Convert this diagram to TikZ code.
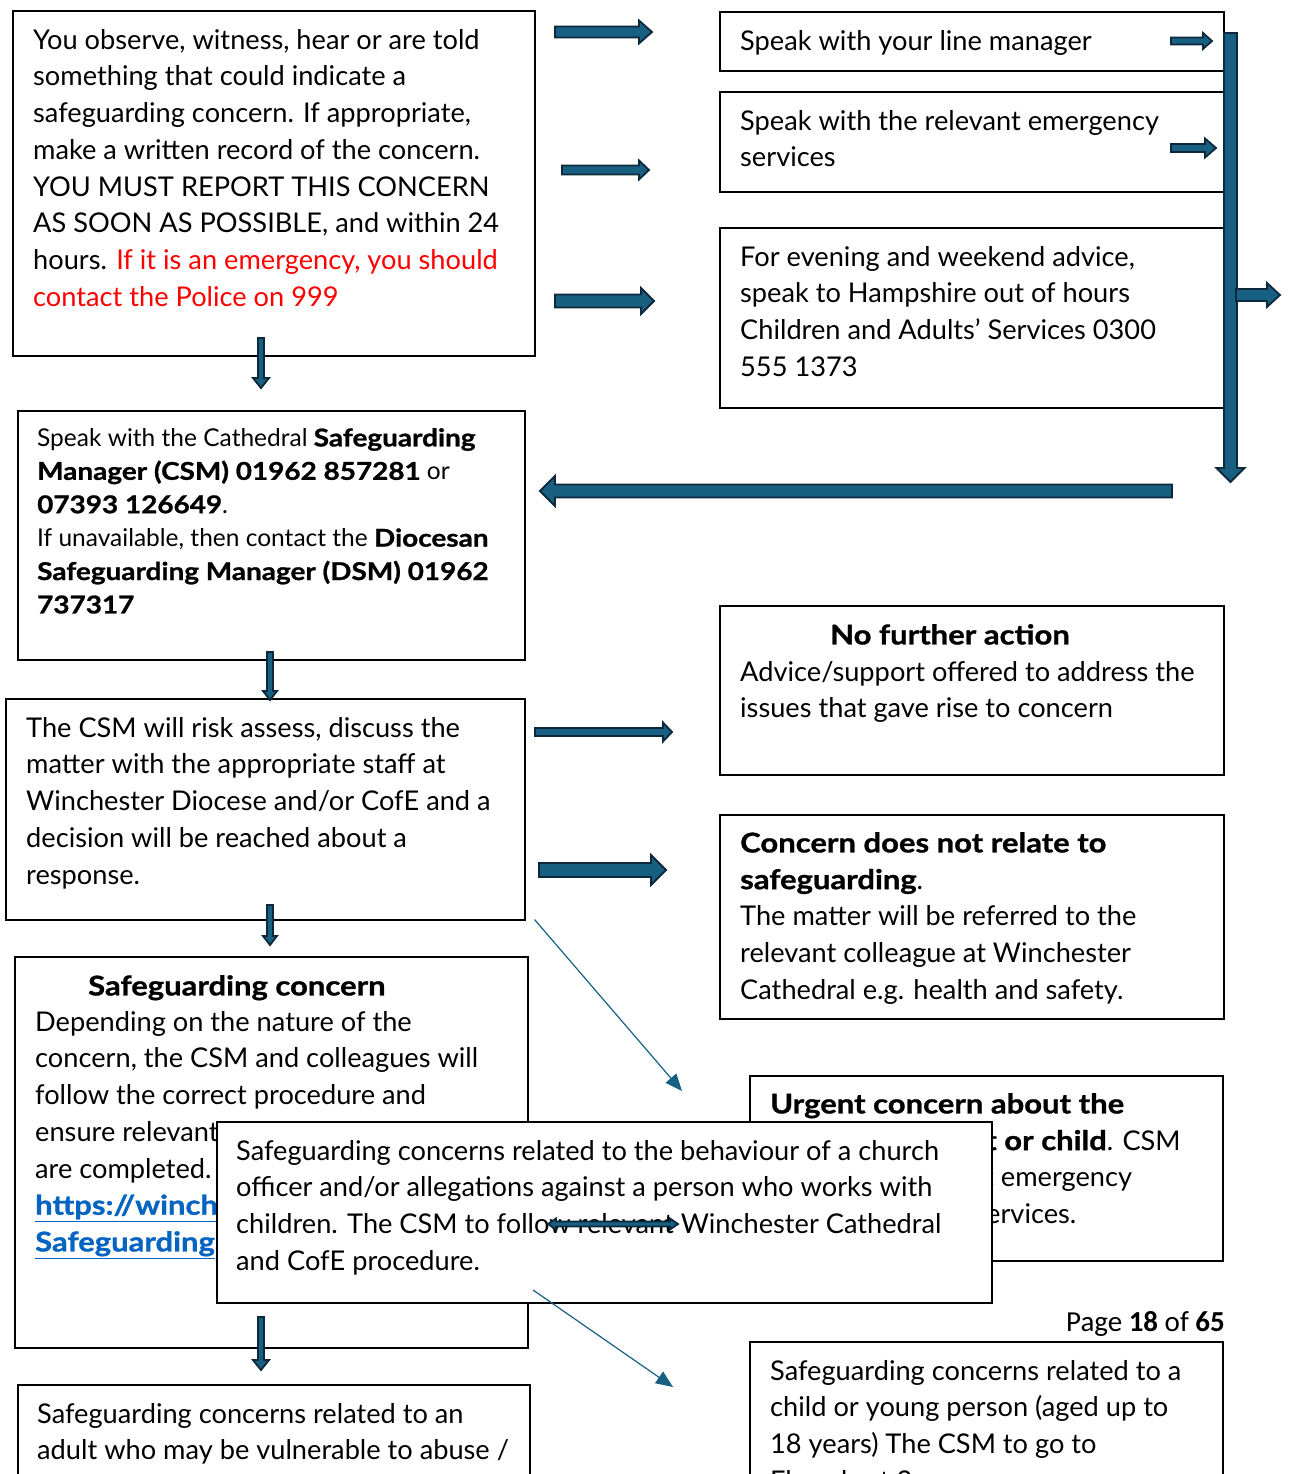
\documentclass[tikz,border=0pt]{standalone}
\usepackage{fontspec}
\setmainfont{Lato}[BoldFeatures={FakeStretch=1.14,FakeBold=1}]
\newfontfamily\pagefont{Carlito}
\usepackage{xcolor}
\usetikzlibrary{arrows.meta,calc}
\definecolor{arrblue}{RGB}{24,96,130}
\definecolor{arredge}{RGB}{12,40,58}
\definecolor{linkblue}{RGB}{5,99,193}
\newcommand\bodysize{\fontsize{27.2}{36.7}\selectfont}
\newcommand\smallsize{\fontsize{24.5}{33.4}\selectfont}
\newcommand\lnk[1]{\textcolor{linkblue}{\textbf{\underline{#1}}}}
\tikzset{
  box/.style     ={draw,line width=1.6pt,fill=white,anchor=north west,inner sep=0pt},
  txt/.style     ={anchor=north west,align=left,inner sep=0pt,font=\bodysize},
  blkarrow/.style={fill=arrblue,draw=arredge,line width=1.8pt,line join=miter},
  thinarr/.style ={draw=arrblue,line width=1.2pt,-{Triangle[length=17pt,width=14pt]}},
  pics/blk/.style args={#1/#2/#3/#4}{code={
    \draw[blkarrow] (0,{-#2/2}) -- ({#1-#4},{-#2/2}) -- ({#1-#4},{-#3/2}) -- (#1,0)
      -- ({#1-#4},{#3/2}) -- ({#1-#4},{#2/2}) -- (0,{#2/2}) -- cycle;}},
  pics/blkboth/.style args={#1/#2/#3/#4}{code={
    \draw[blkarrow] (0,0) -- (#4,{-#3/2}) -- (#4,{-#2/2}) -- ({#1-#4},{-#2/2})
      -- ({#1-#4},{-#3/2}) -- (#1,0) -- ({#1-#4},{#3/2}) -- ({#1-#4},{#2/2})
      -- (#4,{#2/2}) -- (#4,{#3/2}) -- cycle;}},
}

\begin{document}
\begin{tikzpicture}[x=1pt,y=-1pt]
  \useasboundingbox (0,0) rectangle (1289,1474);
  \clip (0,0) rectangle (1289,1474);

  % first report
  \node[box,minimum width=522pt,minimum height=345pt] (obs) at (12,10) {};
  \node[txt] (obs-t) at (33,29) {You observe, witness, hear or are told\\
    something that could indicate a\\
    safeguarding concern. If appropriate,\\
    make a written record of the concern.\\
    YOU MUST REPORT THIS CONCERN\\
    AS SOON AS POSSIBLE, and within 24\\
    hours. \textcolor{red}{If it is an emergency, you should}\\
    \textcolor{red}{contact the Police on 999}};

  % who to speak to
  \node[box,minimum width=504pt,minimum height=59pt] (mgr) at (719,11) {};
  \node[txt] (mgr-t) at (740,30) {Speak with your line manager};
  \node[box,minimum width=504pt,minimum height=100pt] (ems) at (719,91) {};
  \node[txt] (ems-t) at (740,110) {Speak with the relevant emergency\\services};
  \node[box,minimum width=504pt,minimum height=180pt] (ooh) at (719,227) {};
  \node[txt] (ooh-t) at (740,246) {For evening and weekend advice,\\
    speak to Hampshire out of hours\\
    Children and Adults' Services 0300\\
    555 1373};

  % safeguarding manager
  \node[box,minimum width=507pt,minimum height=249pt] (csm) at (17,410) {};
  \node[txt,font=\smallsize] (csm-t) at (37,428) {Speak with the Cathedral \textbf{Safeguarding}\\
    \textbf{Manager (CSM) 01962 857281} or\\
    \textbf{07393 126649}.\\
    If unavailable, then contact the \textbf{Diocesan}\\
    \textbf{Safeguarding Manager (DSM) 01962}\\
    \textbf{737317}};

  % risk assessment
  \node[box,minimum width=519pt,minimum height=221pt] (risk) at (5,698) {};
  \node[txt] (risk-t) at (26,717) {The CSM will risk assess, discuss the\\
    matter with the appropriate staff at\\
    Winchester Diocese and/or CofE and a\\
    decision will be reached about a\\
    response.};

  \node[box,minimum width=504pt,minimum height=169pt] (nfa) at (719,605) {};
  \node[txt,anchor=north] (nfa-h) at (950,624) {\textbf{No further action}};
  \node[txt] (nfa-t) at (740,661) {Advice/support offered to address the\\
    issues that gave rise to concern};

  \node[box,minimum width=504pt,minimum height=204pt] (nsg) at (719,814) {};
  \node[txt] (nsg-t) at (740,832) {\textbf{Concern does not relate to}\\
    \textbf{safeguarding}.\\
    The matter will be referred to the\\
    relevant colleague at Winchester\\
    Cathedral e.g. health and safety.};

  % outcomes
  \node[box,minimum width=513pt,minimum height=391pt] (sgc) at (14,956) {};
  \node[txt] (sgc-h) at (88,975) {\textbf{Safeguarding concern}};
  \node[txt] (sgc-t) at (35,1011) {Depending on the nature of the\\
    concern, the CSM and colleagues will\\
    follow the correct procedure and\\
    ensure relevant\\
    are completed.\\
    \lnk{https://winche}\\
    \lnk{Safeguarding}};

  \node[box,minimum width=473pt,minimum height=185pt] (urg) at (749,1075) {};
  \node[txt] (urg-t) at (770,1093) {\textbf{Urgent concern about the}\\
    \hspace*{215pt}\textbf{t or child}. CSM\\
    \hspace*{214pt}t emergency\\
    \hspace*{216pt}ervices.};

  \node[box,minimum width=775pt,minimum height=181pt] (off) at (216,1121) {};
  \node[txt] (off-t) at (236,1140) {Safeguarding concerns related to the behaviour of a church\\
    officer and/or allegations against a person who works with\\
    children. The CSM to follow relevant Winchester Cathedral\\
    and CofE procedure.};

  \node[box,minimum width=512pt,minimum height=130pt] (adl) at (17,1384) {};
  \node[txt] (adl-t) at (37,1403) {Safeguarding concerns related to an\\
    adult who may be vulnerable to abuse /};

  \node[box,minimum width=473pt,minimum height=170pt] (chd) at (749,1341) {};
  \node[txt] (chd-t) at (770,1360) {Safeguarding concerns related to a\\
    child or young person (aged up to\\
    18 years) The CSM to go to\\
    Flowchart 2};

  \node[txt,anchor=north east,font=\pagefont\fontsize{29}{33}\selectfont] (pg) at (1225,1311)
    {Page \textbf{18} of \textbf{65}};

  % block arrows
  \pic at (555,32) {blk=97/11/23/13};
  \pic at (562,170) {blk=87/9/19/10};
  \pic at (555,301) {blk=99/13/26/13};
  \pic at (1171,41) {blk=41/7/16/9};
  \pic at (1171,148) {blk=45/8/19/11};
  \pic[rotate=-90] at (1230.5,33) {blk=449/13/28/14};
  \pic at (1236,295) {blk=44/12/24/13};
  \pic[rotate=180] at (1172,491) {blk=632/13/30/15};
  \pic[rotate=-90] at (261,338) {blk=50/6/16/10};
  \pic[rotate=-90] at (270,652) {blk=48/6/14/9};
  \pic at (535,732) {blk=137/8/19/9};
  \pic at (539,870) {blk=127/14/30/15};
  \pic[rotate=-90] at (270,905) {blk=40/6/14/9};
  \pic[rotate=-90] at (261,1317) {blk=53/6/16/10};
  \pic at (548,1224) {blkboth=130/5/11/8};

  % thin connectors
  \coordinate (risk-c) at ($(risk.south east)+(9,-1)$);
  \coordinate (urg-c) at (682,1091);
  \coordinate (off-c) at (533,1290);
  \coordinate (chd-c) at (673,1387);
  \draw[thinarr] (risk-c) -- (urg-c);
  \draw[thinarr] (off-c) -- (chd-c);
\end{tikzpicture}
\end{document}
